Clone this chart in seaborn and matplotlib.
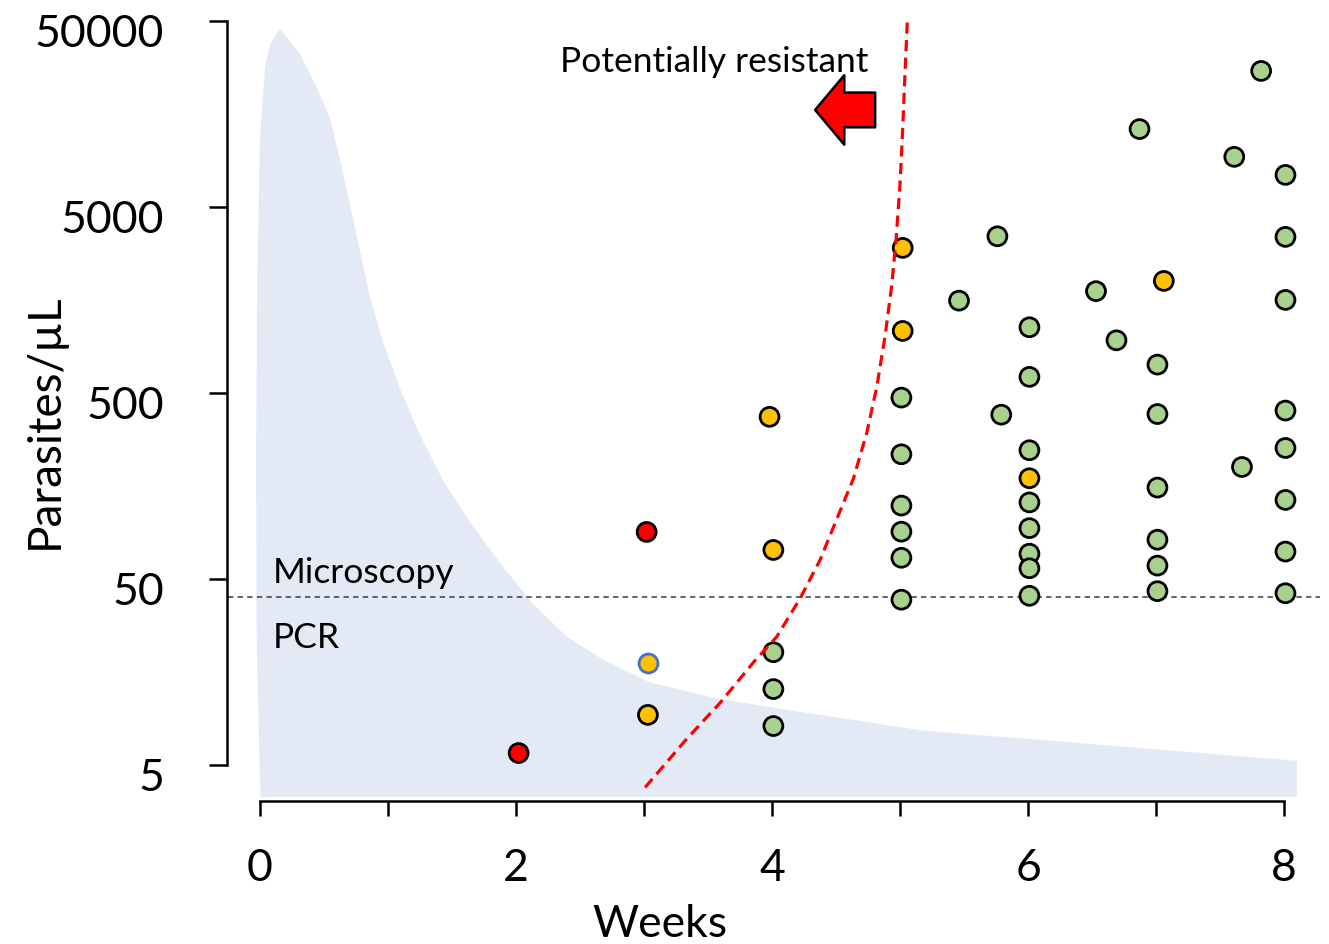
import numpy as np
import pandas as pd
import matplotlib
matplotlib.use('Agg')  # no display
import matplotlib.pyplot as plt
import matplotlib.transforms as mtransforms
from matplotlib.ticker import NullLocator
import seaborn as sns

# --- data --------------------------------------------------------------
# individual patients: week of sampling, parasite density, outcome group
weeks = [2.02, 3.02,
         3.03, 3.98, 4.01, 5.02, 5.02, 6.01, 7.06,
         4.01, 4.01, 4.01,
         5.01, 5.01, 5.01, 5.01, 5.01, 5.01,
         5.46, 5.76, 5.79,
         6.01, 6.01, 6.01, 6.01, 6.01, 6.01, 6.01, 6.01,
         6.53, 6.69, 6.87,
         7.01, 7.01, 7.01, 7.01, 7.01, 7.01,
         7.61, 7.67, 7.82,
         8.01, 8.01, 8.01, 8.01, 8.01, 8.01, 8.01, 8.01]
parasites = [5.8, 89.5,
             9.3, 372, 71.6, 3010, 1077, 174, 2000,
             20.2, 12.8, 8.1,
             472, 234, 124, 89.8, 65, 38.7,
             1567, 3475, 382,
             1127, 610, 246, 129, 93.8, 68.4, 57.1, 40.6,
             1762, 959, 13100,
             710, 385, 155, 81.3, 59, 43,
             9290, 200, 26900,
             7430, 3450, 1581, 402, 253, 133, 70.2, 41.9]
status = (['red'] * 2 + ['amber'] * 7 + ['green'] * 40)

# one amber point drawn with a blue outline
outlined_week = [3.03]
outlined_parasites = [17.7]

# "potentially resistant" boundary (red dashed curve)
boundary_weeks = [3.008, 3.334, 3.594, 3.854, 4.037, 4.219, 4.375, 4.505,
                  4.635, 4.740, 4.818, 4.883, 4.935, 4.969, 5.0, 5.021,
                  5.039, 5.057]
boundary_level = [3.79, 6.92, 10.8, 17.8, 24.5, 39.3, 63.3, 105,
                  173, 306, 540, 1016, 1910, 3370, 6760, 13500,
                  27100, 51000]

# typical parasite clearance envelope (shaded area outline)
fill_weeks = [0.005, 0.0, -0.013, -0.026, -0.031, -0.021, 0.0, 0.039, 0.078,
              0.156, 0.3125, 0.455, 0.547, 0.625, 0.703, 0.781, 0.859,
              0.963, 1.094, 1.25, 1.432, 1.641, 1.875, 2.135, 2.396,
              2.682, 3.047, 3.594, 4.375, 5.156, 5.677, 6.977, 8.099, 8.099]
fill_level = [3.37, 4.05, 9.3, 23.2, 224, 2180, 11950, 28000, 37600,
              45400, 33200, 21100, 15000, 8990, 5120, 2900, 1640,
              929, 526, 297, 168, 101, 61, 36.5, 24.5,
              18.4, 13.9, 11.3, 9.3, 7.7, 7.19, 6.10, 5.27, 3.37]

micro_threshold = 40
y_ticks = [5, 50, 500, 5000, 50000]
x_major = [0, 2, 4, 6, 8]
x_minor = [1, 3, 5, 7]

palette = {'green': '#A9D18E', 'amber': '#FFC000', 'red': '#FF0000'}

df = pd.DataFrame({'Weeks': weeks, 'Parasites': parasites, 'Status': status})

# --- figure ------------------------------------------------------------
sns.set_style('ticks')
plt.rcParams['font.family'] = ['Lato', 'DejaVu Sans']
plt.rcParams['text.color'] = 'black'
plt.rcParams['xtick.color'] = 'black'
plt.rcParams['ytick.color'] = 'black'
plt.rcParams['axes.edgecolor'] = 'black'

W, H = 1329, 945
fig = plt.figure(figsize=(W / 100, H / 100), dpi=100)
ax = fig.add_axes([221.6 / W, 143 / H, (W - 221.6) / W, 792 / H])
ax.set_yscale('log')
ax.set_xlim(-0.3, 8.35)
ax.set_ylim(3.203, 57900)

# shaded envelope
ax.fill(fill_weeks, fill_level, color='#E4EAF5', lw=0, zorder=0)

# microscopy detection limit
ax.axhline(micro_threshold, xmin=0.006, xmax=0.992, color='#3a3a3a',
           lw=1.1, ls=(0, (3.5, 2.8)), zorder=1)

sns.scatterplot(data=df, x='Weeks', y='Parasites', hue='Status',
                palette=palette, s=185, edgecolor='black', linewidth=2.0,
                legend=False, zorder=3, ax=ax)
sns.scatterplot(x=outlined_week, y=outlined_parasites, color='#FFC000',
                s=185, edgecolor='#4472C4', linewidth=2.0, zorder=3, ax=ax)

sns.lineplot(x=boundary_weeks, y=boundary_level, sort=False, estimator=None,
             color='#FF0000', lw=2.3, ls=(0, (3.5, 2)), zorder=4, ax=ax)

# arrow + label for the resistant region
ax.annotate('', xy=(4.336, 16600), xytext=(4.805, 16600),
            arrowprops=dict(arrowstyle='simple,head_length=2.1,head_width=5.0,tail_width=2.5',
                            mutation_scale=10, fc='#FF0000', ec='black', lw=1.8,
                            shrinkA=0, shrinkB=0), zorder=5)
ax.text(2.344, 26900, 'Potentially resistant', fontsize=25.5, va='baseline', ha='left')
ax.text(0.10, 48.2, 'Microscopy', fontsize=25.5, va='baseline', ha='left')
ax.text(0.10, 21.5, 'PCR', fontsize=25.5, va='baseline', ha='left')

# axes styling
sns.despine(ax=ax)
ax.spines['left'].set_position(('data', -0.26))
ax.spines['left'].set_bounds(5, 50000)
ax.spines['bottom'].set_bounds(0, 8)
for side in ['left', 'bottom']:
    ax.spines[side].set_linewidth(1.8)

ax.set_yticks(y_ticks)
ax.set_yticklabels([str(v) for v in y_ticks])
ax.yaxis.set_minor_locator(NullLocator())
ax.set_xticks(x_major)
ax.set_xticks(x_minor, minor=True)
ax.set_xticklabels([str(v) for v in x_major])
ax.tick_params(axis='y', which='major', length=13, width=1.8, pad=32, labelsize=32)
ax.tick_params(axis='x', which='both', length=11, width=1.8, pad=22, labelsize=32)

# y labels sit a little below their ticks in the original
shift = mtransforms.ScaledTranslation(0, -6 / 72, fig.dpi_scale_trans)
for lab in ax.get_yticklabels():
    lab.set_transform(lab.get_transform() + shift)

ax.set_xlabel('')
ax.set_ylabel('')
fig.text(45 / W, 1 - 421 / H, 'Parasites/µL', rotation=90, fontsize=33,
         ha='center', va='center')
fig.text(660 / W, 1 - 925 / H, 'Weeks', fontsize=32, ha='center', va='center')

fig.savefig('out.png', dpi=100)
plt.close(fig)
